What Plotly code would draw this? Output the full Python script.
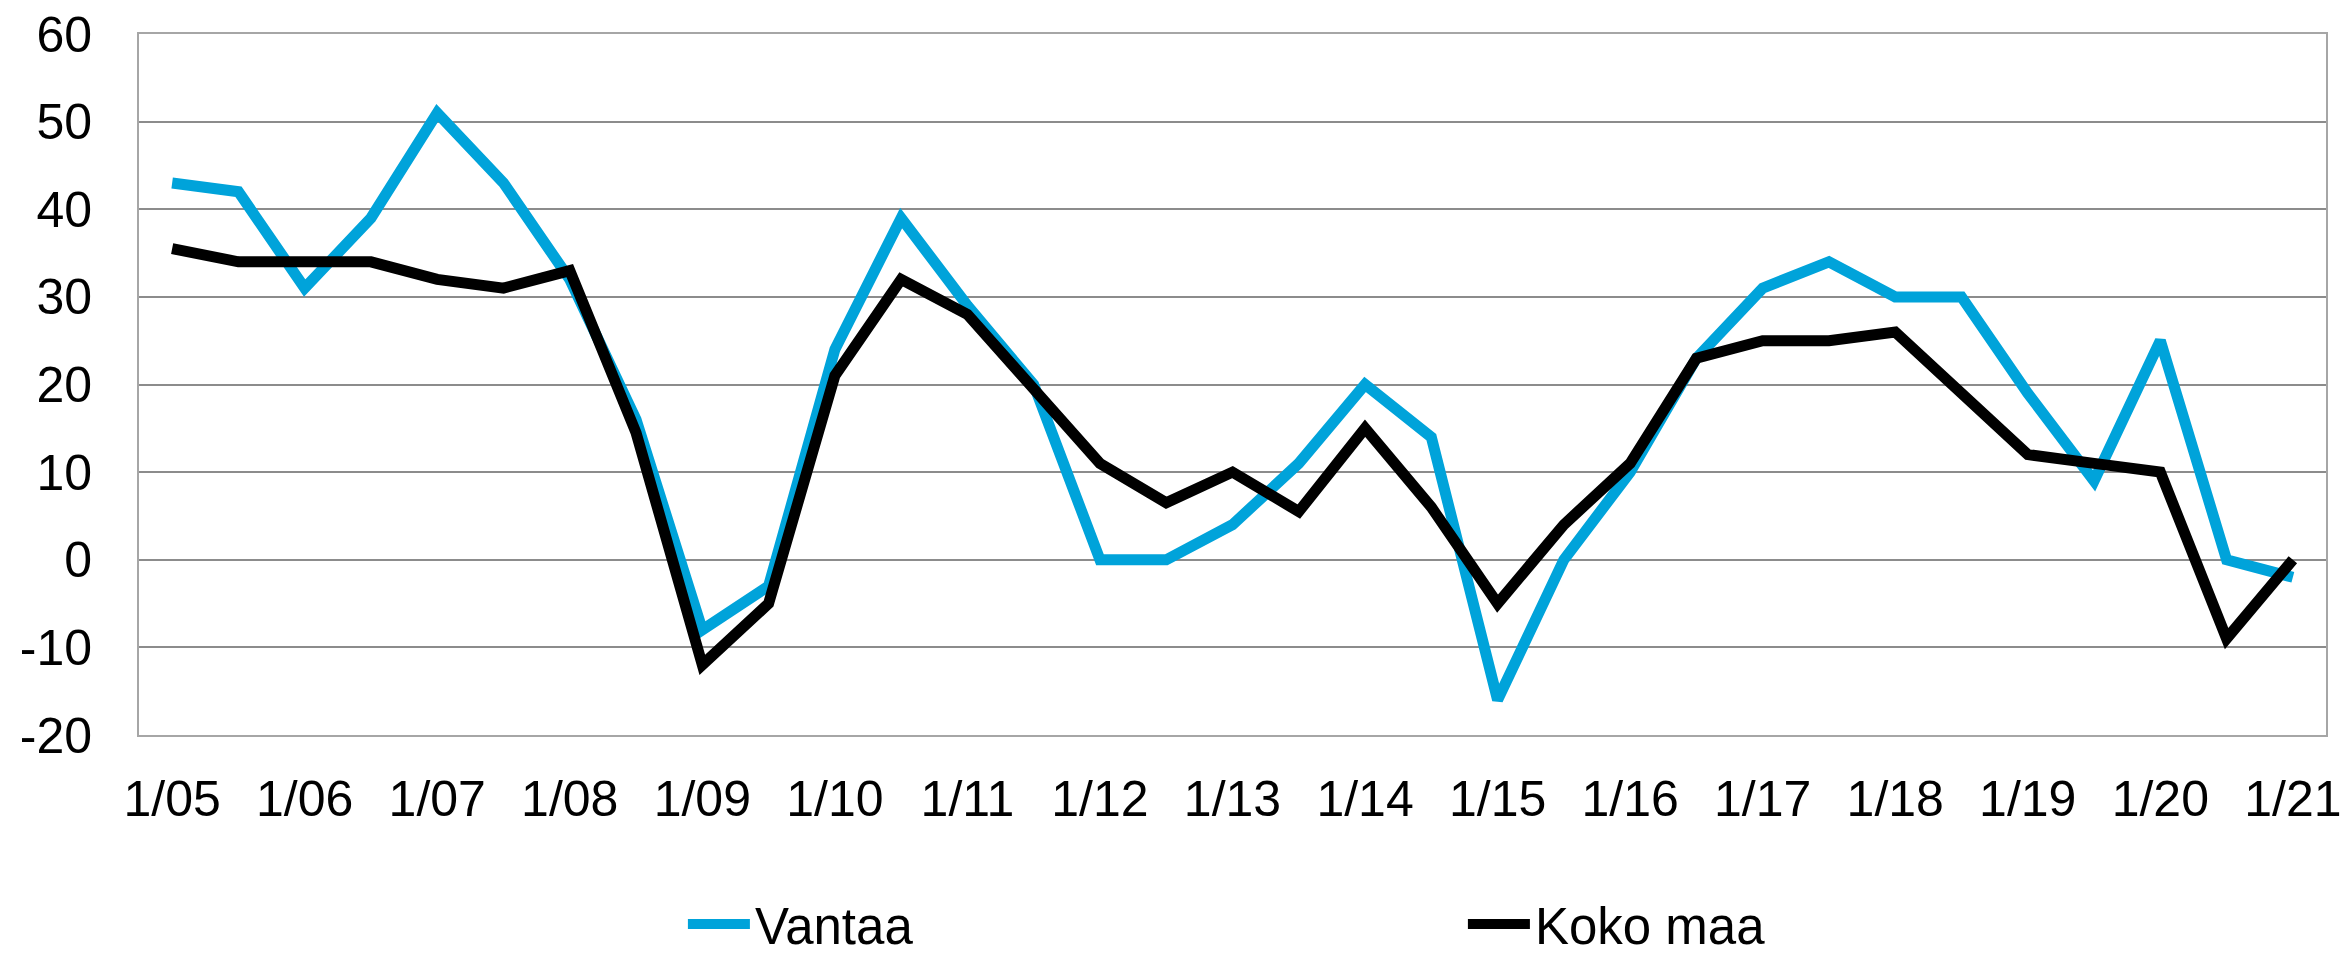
import plotly.graph_objects as go

periods = []
for yr in range(5, 21):
    periods += [f"1/{yr:02d}", f"7/{yr:02d}"]
periods += ["1/21"]

vantaa = [43, 42, 31, 39, 51, 43, 32, 16, -8, -3, 24, 39, 29, 20, 0, 0, 4, 11, 20, 14,
          -16, 0, 10, 23, 31, 34, 30, 30, 19, 9, 25, 0, -2]
koko_maa = [35.5, 34, 34, 34, 32, 31, 33, 14.5, -12, -5, 21, 32, 28, 19.5, 11, 6.5, 10, 5.5, 15, 6,
            -5, 4, 11, 23, 25, 25, 26, 19, 12, 11, 10, -9, 0]

tick_labels = [p for p in periods if p.startswith("1/")]
y_ticks = [-20, -10, 0, 10, 20, 30, 40, 50, 60]
y_tick_text = [str(v) for v in y_ticks]

FONT = "Liberation Sans, Arial, sans-serif"
FS = 50
LFS = 51

fig = go.Figure()
fig.add_trace(go.Scatter(x=periods, y=vantaa, mode="lines", name="Vantaa",
                         line=dict(color="#00A3DA", width=11)))
fig.add_trace(go.Scatter(x=periods, y=koko_maa, mode="lines", name="Koko maa",
                         line=dict(color="#000000", width=11)))

fig.update_layout(
    width=2341, height=957,
    margin=dict(l=139, r=15, t=34, b=222, autoexpand=False),
    paper_bgcolor="white", plot_bgcolor="white",
    font=dict(family=FONT, size=FS, color="black"),
    showlegend=True,
    legend=dict(orientation="h", x=0.2487, xanchor="left", y=-0.27, yanchor="middle",
                entrywidth=703, entrywidthmode="pixels", itemwidth=62,
                font=dict(size=LFS, family=FONT), bgcolor="rgba(0,0,0,0)"),
)
fig.update_xaxes(type="category", range=[-0.5, 32.5], tickmode="array",
                 tickvals=tick_labels, ticktext=tick_labels, automargin=False,
                 showgrid=False, showline=True, linecolor="#A6A6A6", linewidth=2,
                 mirror=True, ticks="", ticklabelstandoff=19,
                 tickfont=dict(size=FS, family=FONT))
fig.update_yaxes(range=[-20, 60], tickmode="array", tickvals=y_ticks, ticktext=y_tick_text,
                 automargin=False, showgrid=True,
                 gridcolor="#8C8C8C", gridwidth=2, zeroline=False,
                 showline=True, linecolor="#A6A6A6", linewidth=2, mirror=True,
                 ticks="", ticklabelstandoff=35,
                 tickfont=dict(size=FS, family=FONT))

fig.write_html("out.html", config={"displayModeBar": False},
               post_script="document.body.style.margin='0';document.body.style.overflow='hidden';")
